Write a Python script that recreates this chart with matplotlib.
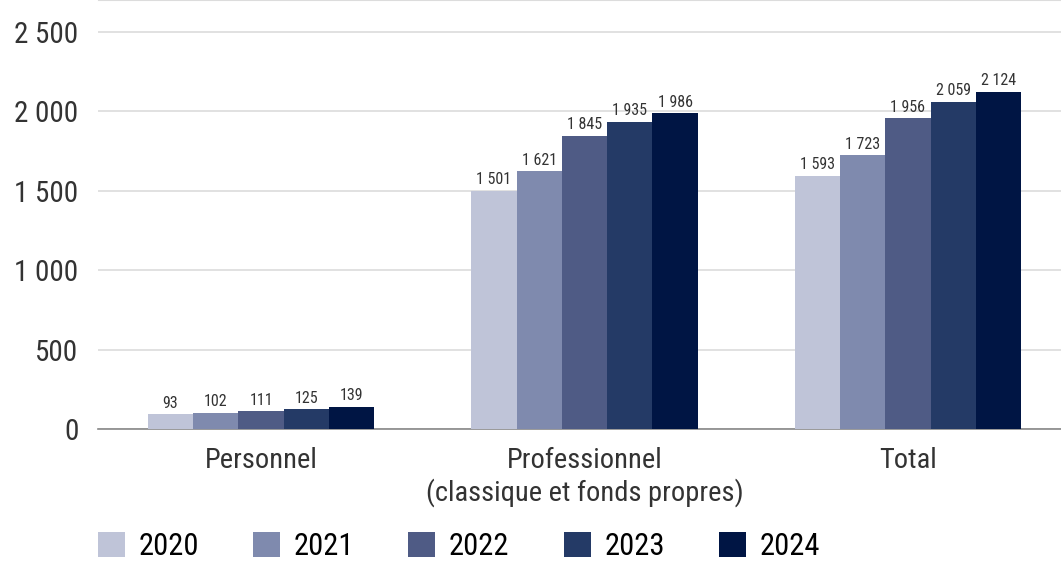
import matplotlib
matplotlib.use('Agg')
import matplotlib.pyplot as plt
import numpy as np

categories = ['Personnel', 'Professionnel\n(classique et fonds propres)', 'Total']
years = ['2020', '2021', '2022', '2023', '2024']
v2020 = [93, 1501, 1593]
v2021 = [102, 1621, 1723]
v2022 = [111, 1845, 1956]
v2023 = [125, 1935, 2059]
v2024 = [139, 1986, 2124]
series = [v2020, v2021, v2022, v2023, v2024]
colors = ['#bfc4d8', '#7f8aae', '#4f5b85', '#243a66', '#001544']
yticks = [0, 500, 1000, 1500, 2000, 2500]

plt.rcParams['font.family'] = ['Roboto Condensed', 'Liberation Sans Narrow', 'Roboto', 'DejaVu Sans']


def fmt(v):
    # French thousands separator (space)
    return '{:,}'.format(v).replace(',', ' ')


fig = plt.figure(figsize=(10.61, 5.61), dpi=100)
ax = fig.add_axes([0.0924, 0.2353, 0.9076, 0.7647])

x = np.arange(len(categories))
w = 0.14
bars = []
for i, (vals, col, yr) in enumerate(zip(series, colors, years)):
    off = (i - 2) * w
    b = ax.bar(x + off, vals, w, color=col, label=yr, zorder=3)
    bars.append(b)
    for rect, v in zip(b, vals):
        ax.text(rect.get_x() + rect.get_width() / 2, v + 22, fmt(v),
                ha='center', va='bottom', fontsize=11.5, color='#333333',
                clip_on=False, zorder=4)

ax.set_xlim(-0.504, 2.473)
ax.set_ylim(0, 2700)
ax.set_yticks(yticks)
ax.set_yticklabels([fmt(t) for t in yticks], fontsize=21, color='#333333')
ax.set_xticks(x)
ax.set_xticklabels(categories, fontsize=20.5, color='#333333', linespacing=1.2)
ax.tick_params(axis='both', length=0)
ax.tick_params(axis='y', pad=14)
ax.tick_params(axis='x', pad=13)

ax.yaxis.grid(True, color='#dcdcdc', linewidth=1.2, zorder=0)
for s in ['left', 'right']:
    ax.spines[s].set_visible(False)
ax.spines['top'].set_color('#dcdcdc')
ax.spines['bottom'].set_color('#888888')
ax.spines['bottom'].set_linewidth(1.2)

fig.legend(handles=bars, labels=years, loc='center left',
           bbox_to_anchor=(0.0924, 0.026), ncol=5, frameon=False,
           fontsize=22, handlelength=0.88, handleheight=0.88,
           handletextpad=0.45, columnspacing=1.77, borderaxespad=0,
           borderpad=0)

fig.savefig('out.png', dpi=100)
